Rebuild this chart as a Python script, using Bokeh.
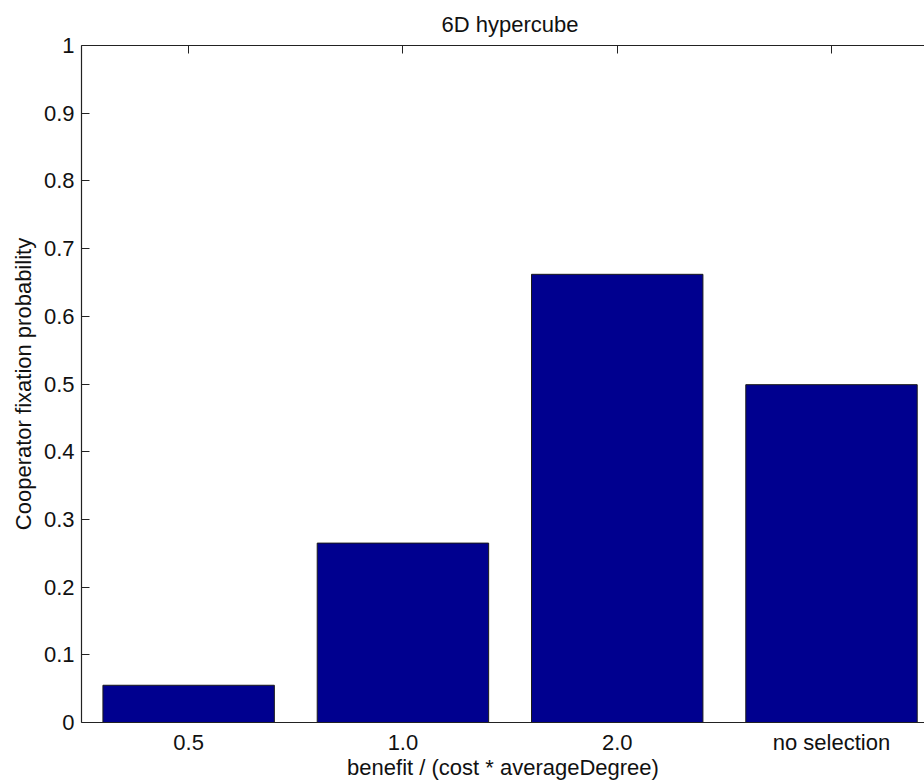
from bokeh.plotting import figure
from bokeh.models import FixedTicker, LinearAxis, Range1d, ColumnDataSource, CustomJSTickFormatter
from bokeh.embed import file_html
from bokeh.resources import INLINE

# ---- data ----
categories = ["0.5", "1.0", "2.0", "no selection"]
positions = [1, 2, 3, 4]
probabilities = [0.055, 0.265, 0.662, 0.499]
ytick_values = [0.0, 0.1, 0.2, 0.3, 0.4, 0.5, 0.6, 0.7, 0.8, 0.9, 1.0]
ytick_labels = ["0", "0.1", "0.2", "0.3", "0.4", "0.5", "0.6", "0.7", "0.8", "0.9", "1"]
title_text = "6D hypercube"

FONT = "Liberation Sans"
FS = "22px"
AX = "#222222"

src = ColumnDataSource(dict(x=positions, top=probabilities, cat=categories))

p = figure(width=924, height=782, output_backend="svg", toolbar_location=None,
           x_range=Range1d(0.5, 4.434), y_range=Range1d(0, 1),
           min_border_left=81, min_border_right=0, min_border_top=45, min_border_bottom=60)

p.outline_line_color = None
p.xgrid.visible = False
p.ygrid.visible = False
p.background_fill_color = "white"
p.border_fill_color = "white"

p.vbar(x="x", top="top", width=0.8, source=src,
       fill_color="#00008F", line_color="#1a1a1a", line_width=1)

# bottom axis
xa = p.xaxis[0]
xa.ticker = FixedTicker(ticks=positions)
xa.major_label_overrides = {pos: lab for pos, lab in zip(positions, categories)}
xa.major_tick_in = 0
xa.major_tick_out = 0
xa.minor_tick_in = 0
xa.minor_tick_out = 0
xa.major_label_standoff = 7
xa.axis_label = "benefit / (cost * averageDegree)"
xa.axis_label_standoff = -3

# left axis
ya = p.yaxis[0]
ya.ticker = FixedTicker(ticks=ytick_values)
ya.major_label_overrides = {v: l for v, l in zip(ytick_values, ytick_labels)}
ya.major_tick_in = 8
ya.major_tick_out = 0
ya.minor_tick_in = 0
ya.minor_tick_out = 0
ya.major_label_standoff = 7
ya.axis_label = "Cooperator fixation probability"
ya.axis_label_standoff = 5

# top axis (box edge with inward ticks, no labels)
ta = LinearAxis(ticker=FixedTicker(ticks=positions), major_tick_in=8, major_tick_out=0,
                minor_tick_in=0, minor_tick_out=0,
                formatter=CustomJSTickFormatter(code="return ''"),
                major_label_standoff=0)
p.add_layout(ta, "above")

for ax in (xa, ya, ta):
    ax.axis_line_color = AX
    ax.axis_line_width = 1.2
    ax.major_tick_line_color = AX
    ax.major_label_text_font = FONT
    ax.axis_label_text_font = FONT
    ax.axis_label_text_font_style = "normal"
    ax.axis_label_text_color = "#111111"
    ax.major_label_text_color = "#111111"
    ax.axis_label_text_font_size = FS
    ax.major_label_text_font_size = FS

p.title.text = title_text
p.title.align = "left"
p.title.offset = 360
p.title.text_font = FONT
p.title.text_font_size = FS
p.title.text_font_style = "normal"
p.title.text_color = "#111111"
p.title.standoff = 18

open("out.html", "w").write(file_html(p, INLINE))
